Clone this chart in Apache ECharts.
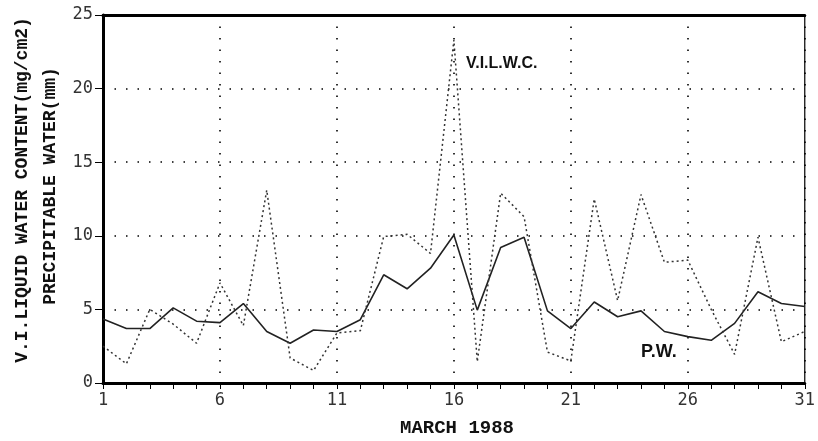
<!DOCTYPE html>
<html><head><meta charset="utf-8">
<script src="https://cdn.jsdelivr.net/npm/echarts@6/dist/echarts.min.js"></script>
<style>html,body{margin:0;padding:0;background:#fff}#c{width:818px;height:441px}</style>
</head><body><div id="c"></div>
<script>
const days = ['1','2','3','4','5','6','7','8','9','10','11','12','13','14','15','16','17','18','19','20','21','22','23','24','25','26','27','28','29','30','31'];
const pw = [4.35,3.7,3.7,5.1,4.2,4.1,5.4,3.5,2.7,3.6,3.5,4.3,7.35,6.4,7.8,10.05,4.95,9.2,9.9,4.9,3.7,5.5,4.5,4.9,3.5,3.15,2.9,4.05,6.2,5.4,5.2];
const vilwc = [2.5,1.3,5.0,4.0,2.7,6.8,3.9,13.1,1.7,0.85,3.4,3.55,9.95,10.1,8.8,23.3,1.45,12.9,11.3,2.1,1.5,12.5,5.6,12.8,8.2,8.35,5.0,1.95,9.9,2.8,3.5];
const yTicks = [0,5,10,15,20,25];

const chart = echarts.init(document.getElementById('c'));
const lab = {color:'#333', fontFamily:'DejaVu Sans Mono', fontSize:17};
const mono = 'bold 18px "Liberation Mono"';
chart.setOption({
  animation:false,
  grid:{left:103,right:10,top:15,bottom:58,show:true,borderColor:'#000',borderWidth:1.2},
  xAxis:[{type:'category',data:days,boundaryGap:false,
    axisLine:{lineStyle:{color:'#000',width:3}},
    axisTick:{interval:0,length:6,lineStyle:{color:'#000',width:1}},
    axisLabel:Object.assign({interval:4,margin:9},lab),
    splitLine:{show:true,interval:4,lineStyle:{color:'#000',type:[1.5,10],width:1.6}}},
   {type:'category',data:days,boundaryGap:false,position:'top',
    axisLine:{lineStyle:{color:'#000',width:3}},axisTick:{show:false},axisLabel:{show:false}}],
  yAxis:{type:'value',min:0,max:25,interval:5,
    axisLine:{show:true,lineStyle:{color:'#000',width:3}},
    axisTick:{show:true,length:8,lineStyle:{color:'#000',width:1}},
    axisLabel:Object.assign({margin:10,formatter:v=>yTicks.includes(v)?String(v):''},lab),
    splitLine:{show:true,lineStyle:{color:'#000',type:[1.5,10],width:1.6}}},
  series:[
    {name:'P.W.',type:'line',data:pw,showSymbol:false,lineStyle:{color:'#222',width:1.6}},
    {name:'V.I.L.W.C.',type:'line',data:vilwc,showSymbol:false,lineStyle:{color:'#333',width:1.5,type:[2,3]}}
  ],
  graphic:[
    {type:'text',x:22,y:190,rotation:Math.PI/2,style:{text:'V.I.LIQUID WATER CONTENT(mg/cm2)',font:mono,fill:'#111',textAlign:'center',textVerticalAlign:'middle'}},
    {type:'text',x:50,y:186,rotation:Math.PI/2,style:{text:'PRECIPITABLE WATER(mm)',font:mono,fill:'#111',textAlign:'center',textVerticalAlign:'middle'}},
    {type:'text',x:457,y:428,style:{text:'MARCH 1988',font:'bold 19px "Liberation Mono"',fill:'#111',textAlign:'center',textVerticalAlign:'middle'}},
    {type:'text',x:466,y:64,style:{text:'V.I.L.W.C.',font:'bold 16px "Liberation Sans"',fill:'#111',textAlign:'left',textVerticalAlign:'middle'}},
    {type:'text',x:641,y:352,style:{text:'P.W.',font:'bold 18px "Liberation Sans"',fill:'#111',textAlign:'left',textVerticalAlign:'middle'}}
  ]
});
</script></body></html>
